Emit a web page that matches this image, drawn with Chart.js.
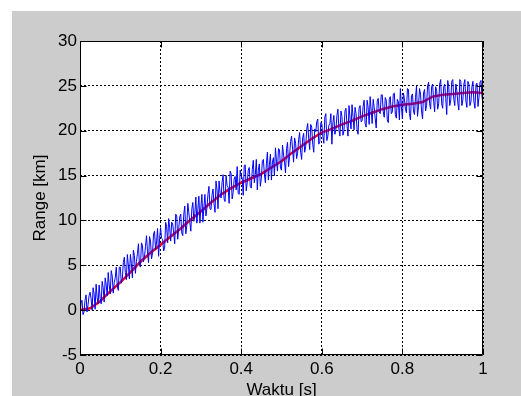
<!DOCTYPE html>
<html><head><meta charset="utf-8">
<script src="https://cdn.jsdelivr.net/npm/chart.js@4.4.0/dist/chart.umd.min.js"></script>
<style>html,body{margin:0;padding:0;background:#fff;}#wrap{width:521px;height:396px;}</style>
</head><body><div id="wrap"><canvas id="c" width="521" height="396"></canvas></div>
<script>
// Noisy measured range [km], sampled every 0.0025 s
const timeStepNoisy = 0.0025;
const rangeNoisy = [
 -0.9, 0.8, 1.1, -0.5, -0.2, 1.1, 1.7, -0.2, 0.6, 1.6,
 2.0, 1.3, 0.0, 2.5, 1.8, 0.1, 2.9, 1.4, 0.7, 2.8,
 1.3, 0.7, 3.2, 2.5, 0.9, 3.6, 2.8, 1.6, 4.2, 2.8,
 1.8, 4.4, 3.8, 1.9, 3.1, 3.6, 4.8, 2.7, 2.2, 4.8,
 4.8, 3.0, 3.5, 5.3, 5.9, 4.2, 3.4, 6.2, 5.0, 3.5,
 6.2, 5.2, 3.6, 6.7, 6.1, 4.1, 5.4, 6.3, 7.4, 5.0,
 4.8, 7.5, 7.2, 5.4, 5.9, 7.1, 8.3, 6.5, 5.3, 8.2,
 7.7, 5.7, 6.4, 8.5, 8.8, 6.7, 7.6, 9.1, 6.0, 8.0,
 9.2, 8.0, 7.9, 6.6, 6.9, 9.8, 9.3, 7.5, 10.2, 9.2,
 7.7, 9.8, 9.6, 8.6, 7.4, 10.7, 10.5, 7.9, 9.1, 10.4,
 10.7, 8.6, 8.3, 10.7, 11.6, 8.5, 9.4, 11.9, 10.9, 9.8,
 8.8, 11.3, 12.0, 9.9, 10.8, 12.6, 9.7, 11.3, 12.7, 9.7,
 11.5, 12.9, 9.8, 11.5, 12.9, 10.5, 11.4, 12.9, 13.8, 11.3,
 11.2, 12.8, 13.5, 11.9, 10.9, 14.4, 13.4, 11.3, 14.4, 13.1,
 12.5, 14.2, 15.1, 12.4, 12.1, 15.0, 13.9, 13.7, 11.9, 15.5,
 15.2, 12.4, 13.1, 14.6, 14.9, 13.4, 16.0, 13.0, 12.9, 15.6,
 15.0, 14.7, 12.8, 16.1, 16.2, 13.3, 14.2, 15.6, 15.9, 13.8,
 13.6, 15.7, 16.7, 14.2, 15.1, 16.8, 13.4, 15.6, 16.3, 13.8,
 14.7, 16.6, 16.8, 15.2, 14.2, 16.3, 17.6, 14.5, 16.2, 17.4,
 14.5, 16.5, 17.0, 15.0, 18.1, 16.6, 15.5, 18.0, 17.9, 15.8,
 15.6, 18.4, 17.4, 16.5, 15.3, 18.0, 18.7, 16.0, 17.1, 18.8,
 19.4, 17.9, 16.5, 19.2, 18.6, 16.9, 17.5, 19.0, 19.8, 17.6,
 16.8, 19.2, 19.7, 17.6, 18.2, 20.1, 20.8, 19.1, 17.9, 20.7,
 20.4, 18.5, 17.6, 20.2, 19.9, 21.0, 21.3, 18.5, 18.8, 20.9,
 20.8, 19.4, 18.6, 21.5, 21.9, 18.9, 19.4, 20.6, 20.8, 21.9,
 18.5, 20.9, 21.7, 19.6, 20.1, 21.7, 22.4, 20.1, 19.4, 22.2,
 21.6, 19.5, 20.0, 22.2, 22.5, 20.6, 19.4, 22.8, 21.4, 20.2,
 22.9, 21.6, 20.1, 22.6, 21.9, 20.1, 19.6, 22.5, 22.8, 21.0,
 21.1, 22.7, 23.4, 20.8, 20.4, 23.4, 22.6, 20.7, 23.8, 22.3,
 20.8, 23.5, 22.6, 21.4, 20.3, 23.3, 23.6, 22.1, 21.9, 24.0,
 24.0, 22.1, 21.5, 23.7, 23.4, 21.2, 20.9, 23.5, 23.8, 21.9,
 22.1, 24.1, 24.2, 21.8, 21.4, 23.5, 23.2, 21.2, 24.7, 22.7,
 21.3, 24.2, 23.6, 22.4, 22.0, 24.7, 24.6, 21.9, 21.2, 23.9,
 24.1, 22.2, 21.8, 23.7, 25.0, 21.6, 22.7, 24.7, 24.1, 22.2,
 21.3, 24.2, 24.6, 22.2, 22.8, 25.0, 25.4, 23.0, 22.4, 24.9,
 25.2, 23.3, 22.1, 24.9, 24.5, 22.4, 23.0, 25.2, 25.7, 23.0,
 22.5, 24.9, 25.2, 23.6, 21.8, 25.6, 24.9, 22.8, 23.4, 25.5,
 25.7, 23.5, 22.8, 25.2, 24.5, 23.1, 22.3, 25.7, 25.5, 22.8,
 23.4, 25.2, 25.7, 23.3, 22.6, 25.5, 25.2, 22.8, 23.2, 24.9,
 25.5, 23.2, 22.5, 25.1, 25.3, 22.7, 23.7, 25.4, 25.6, 23.8,
 22.9
];
// Smoothed / estimated range [km], sampled every 0.025 s
const timeStepFit = 0.025;
const rangeFit = [
 0.0, 0.2, 1.0, 2.1, 3.1, 4.2, 5.4, 6.4, 7.3, 8.2, 9.1, 10.1, 11.0, 12.0, 12.9, 13.6, 14.2, 14.7, 15.2, 15.9,
 16.6, 17.5, 18.3, 19.1, 19.8, 20.2, 20.7, 21.1, 21.6, 22.0, 22.4, 22.7, 22.9, 23.0, 23.2, 23.8, 24.0, 24.1, 24.2, 24.3, 24.2
];
const xTickValues = [0, 0.2, 0.4, 0.6, 0.8, 1];
const yTickValues = [-5, 0, 5, 10, 15, 20, 25, 30];
const xTitle = 'Waktu [s]';
const yTitle = 'Range [km]';

const FONT = '"Liberation Sans", Arial, Helvetica, sans-serif';
Chart.defaults.font.family = FONT;
Chart.defaults.color = '#000';

const bgPlugin = {
  id: 'bg',
  beforeDraw(chart) {
    const {ctx, chartArea: a} = chart;
    ctx.save();
    ctx.fillStyle = '#ffffff';
    ctx.fillRect(0, 0, chart.width, chart.height);
    ctx.fillStyle = '#cccccc';
    ctx.fillRect(12, 11, chart.width - 12, chart.height - 11);
    ctx.fillStyle = '#ffffff';
    ctx.fillRect(a.left, a.top, a.right - a.left, a.bottom - a.top);
    ctx.restore();
  },
  afterDraw(chart) {
    const {ctx, chartArea: a, scales} = chart;
    ctx.save();
    ctx.setLineDash([]);
    ctx.strokeStyle = '#000';
    ctx.lineWidth = 1;
    const L = Math.round(a.left) + 0.5, R = Math.round(a.right) - 0.5;
    const T = Math.round(a.top) + 0.5, B = Math.round(a.bottom) - 0.5;
    ctx.beginPath();
    ctx.rect(L, T, R - L, B - T);
    const tl = 6;
    scales.x.ticks.forEach(t => {
      const px = Math.round(scales.x.getPixelForValue(t.value)) + 0.5;
      ctx.moveTo(px, B); ctx.lineTo(px, B - tl);
      ctx.moveTo(px, T); ctx.lineTo(px, T + tl);
    });
    scales.y.ticks.forEach(t => {
      const py = Math.round(scales.y.getPixelForValue(t.value)) + 0.5;
      ctx.moveTo(L, py); ctx.lineTo(L + tl, py);
      ctx.moveTo(R, py); ctx.lineTo(R - tl, py);
    });
    ctx.stroke();
    ctx.restore();
  }
};

new Chart(document.getElementById('c'), {
  type: 'line',
  data: {
    datasets: [
      {
        data: rangeNoisy.map((v, i) => ({x: i * timeStepNoisy, y: v})),
        borderColor: '#0000ff', borderWidth: 1, pointRadius: 0, tension: 0, fill: false
      },
      {
        data: rangeFit.map((v, i) => ({x: i * timeStepFit, y: v})),
        borderColor: '#ff0000', borderWidth: 2.5, pointRadius: 0, tension: 0, fill: false
      }
    ]
  },
  options: {
    responsive: false, animation: false, devicePixelRatio: 1,
    layout: {padding: {left: 0, right: 38, top: 41, bottom: 0}},
    plugins: {legend: {display: false}, tooltip: {enabled: false}},
    scales: {
      x: {
        type: 'linear', min: 0, max: 1,
        afterBuildTicks: s => { s.ticks = xTickValues.map(v => ({value: v})); },
        afterFit: s => { s.height = 41; },
        grid: {color: '#000', lineWidth: 1, drawTicks: false},
        border: {display: false, dash: [2, 2]},
        ticks: {padding: 4, font: {size: 17}, color: '#000', maxRotation: 0,
                callback: v => String(Math.round(v * 10) / 10)},
        title: {display: true, text: xTitle, font: {size: 17}, color: '#000', padding: {top: 0, bottom: -5}}
      },
      y: {
        type: 'linear', min: -5, max: 30,
        afterBuildTicks: s => { s.ticks = yTickValues.map(v => ({value: v})); },
        afterFit: s => { s.width = 80; },
        grid: {color: '#000', lineWidth: 1, drawTicks: false},
        border: {display: false, dash: [2, 2]},
        ticks: {padding: 3, font: {size: 17}, color: '#000', callback: v => String(v)},
        title: {display: true, text: yTitle, font: {size: 17}, color: '#000', padding: {top: 30, bottom: 0}}
      }
    }
  },
  plugins: [bgPlugin]
});
</script></body></html>
